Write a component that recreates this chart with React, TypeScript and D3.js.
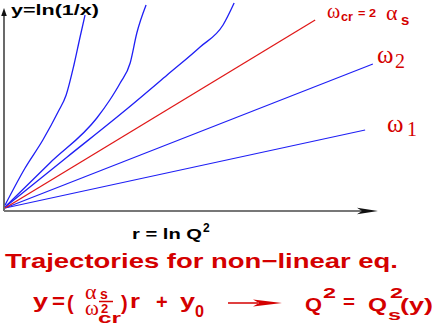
import * as d3 from "d3";

// straight trajectories, [r, y] in axis units
const lineOmega1 = [[0.03, 0.1], [9.76, 4.0]];
const lineOmega2 = [[0.03, 0.1], [9.97, 7.3]];
const lineOmegaCr = [[0.03, 0.1], [8.41, 9.5]];

// curved trajectories
const curveA = [
  [0.03, 0.25], [0.57, 2.1], [1.05, 3.5], [1.46, 4.9], [1.68, 5.75],
  [1.89, 7.25], [2.05, 8.6], [2.19, 9.75],
];
const curveB = [
  [0.03, 0.15], [1.24, 2.35], [2.51, 4.6], [2.86, 5.5], [3.14, 6.35],
  [3.41, 7.35], [3.59, 8.85], [3.84, 10.25],
];
const curveC = [
  [0.03, 0.15], [1.7, 2.64], [3.32, 5.05], [4.41, 6.75], [5.3, 8.15],
  [5.92, 9.25], [6.22, 10.35],
];

const yLabel = "y=ln(1/x)";
const xLabel = "r = ln Q";
const title = "Trajectories for non\u2212linear eq.";

const BLUE = "#1f1ff5";
const RED = "#e01818";
const TXT = "#d40000";
const SANS = "'Liberation Sans', Arial, sans-serif";
const SERIF = "'Liberation Serif', 'Times New Roman', serif";

export default function App() {
  const width = 436;
  const height = 327;

  const x = d3.scaleLinear().domain([0, 10]).range([4, 374]);
  const y = d3.scaleLinear().domain([0, 10]).range([210, 10]);

  const straight = d3
    .line<number[]>()
    .x((d) => x(d[0]))
    .y((d) => y(d[1]));
  const smooth = d3
    .line<number[]>()
    .x((d) => x(d[0]))
    .y((d) => y(d[1]))
    .curve(d3.curveMonotoneX);

  const blueLines = [lineOmega1, lineOmega2];
  const blueCurves = [curveA, curveB, curveC];

  const b = { fontFamily: SANS, fontWeight: 700 } as const;

  return (
    <svg
      width={width}
      height={height}
      style={{ position: "absolute", left: 0, top: 0, background: "#fff" }}
    >
      {/* axes */}
      <line x1={4} y1={211} x2={4} y2={14} stroke="#444" strokeWidth={1.6} />
      <path d="M4,8 L6.8,16 L1.2,16 Z" fill="#111" />
      <line x1={4} y1={211} x2={362} y2={211} stroke="#777" strokeWidth={2} />
      <path d="M378,211 L357,207.8 L362,211 L357,214.2 Z" fill="#111" />

      {/* trajectories */}
      {blueCurves.map((c, i) => (
        <path key={"c" + i} d={smooth(c) || ""} fill="none" stroke={BLUE} strokeWidth={1.3} />
      ))}
      {blueLines.map((c, i) => (
        <path key={"l" + i} d={straight(c) || ""} fill="none" stroke={BLUE} strokeWidth={1.2} />
      ))}
      <path d={straight(lineOmegaCr) || ""} fill="none" stroke={RED} strokeWidth={1.3} />

      {/* axis labels */}
      <text x={11} y={15} fontSize={15} {...b} fill="#000" textLength={88} lengthAdjust="spacingAndGlyphs">
        {yLabel}
      </text>
      <text x={132} y={239} fontSize={14} {...b} fill="#000" textLength={70} lengthAdjust="spacingAndGlyphs">
        {xLabel}
      </text>
      <text x={203} y={232} fontSize={12} {...b} fill="#000">2</text>

      {/* curve labels */}
      <g fill={TXT}>
        <text x={327} y={18} fontSize={20} fontFamily={SERIF}>ω</text>
        <text x={341} y={21} fontSize={13} {...b} textLength={12} lengthAdjust="spacingAndGlyphs">cr</text>
        <text x={358} y={17} fontSize={11} {...b} textLength={18} lengthAdjust="spacingAndGlyphs">= 2</text>
        <text x={386} y={20} fontSize={22} fontFamily={SERIF}>α</text>
        <text x={401} y={25} fontSize={15} {...b}>s</text>

        <text x={377} y={63} fontSize={25} fontFamily={SERIF}>ω</text>
        <text x={395} y={68} fontSize={20} fontFamily={SERIF}>2</text>

        <text x={387} y={132} fontSize={25} fontFamily={SERIF}>ω</text>
        <text x={407} y={136} fontSize={20} fontFamily={SERIF}>1</text>
      </g>

      {/* title */}
      <text x={5} y={268} fontSize={21} {...b} fill={TXT} textLength={393} lengthAdjust="spacingAndGlyphs">
        {title}
      </text>

      {/* equation */}
      <g fill={TXT}>
        <text x={33} y={308} fontSize={20} {...b} textLength={15} lengthAdjust="spacingAndGlyphs">y</text>
        <text x={52} y={308} fontSize={20} {...b} textLength={13} lengthAdjust="spacingAndGlyphs">=</text>
        <text x={67} y={310} fontSize={20} {...b}>(</text>
        <text x={85} y={299} fontSize={22} fontFamily={SERIF}>α</text>
        <text x={100} y={299} fontSize={14} {...b}>s</text>
        <line x1={99} y1={301.5} x2={113} y2={301.5} stroke={TXT} strokeWidth={1.5} />
        <text x={85} y={315} fontSize={21} fontFamily={SERIF}>ω</text>
        <text x={101} y={313} fontSize={13} {...b}>2</text>
        <text x={98} y={323} fontSize={14} {...b} textLength={23} lengthAdjust="spacingAndGlyphs">cr</text>
        <text x={121} y={310} fontSize={20} {...b}>)</text>
        <text x={130} y={308} fontSize={20} {...b} textLength={10} lengthAdjust="spacingAndGlyphs">r</text>
        <text x={156} y={309} fontSize={20} {...b}>+</text>
        <text x={180} y={308} fontSize={20} {...b} textLength={15} lengthAdjust="spacingAndGlyphs">y</text>
        <text x={195} y={317} fontSize={16} {...b} textLength={9} lengthAdjust="spacingAndGlyphs">0</text>

        <line x1={228} y1={303} x2={258} y2={303} stroke={TXT} strokeWidth={1.5} />
        <path d="M282,303 L253,299.5 L259,303 L253,306.5 Z" fill={TXT} />

        <text x={305} y={311} fontSize={19} {...b} textLength={17} lengthAdjust="spacingAndGlyphs">Q</text>
        <text x={323} y={298} fontSize={15} {...b} textLength={13} lengthAdjust="spacingAndGlyphs">2</text>
        <text x={343} y={308} fontSize={19} {...b} textLength={12} lengthAdjust="spacingAndGlyphs">=</text>
        <text x={368} y={311} fontSize={19} {...b} textLength={19} lengthAdjust="spacingAndGlyphs">Q</text>
        <text x={390} y={298} fontSize={15} {...b} textLength={13} lengthAdjust="spacingAndGlyphs">2</text>
        <text x={388} y={320} fontSize={15} {...b} textLength={13} lengthAdjust="spacingAndGlyphs">s</text>
        <text x={400} y={311} fontSize={19} {...b} textLength={33} lengthAdjust="spacingAndGlyphs">(y)</text>
      </g>
    </svg>
  );
}
